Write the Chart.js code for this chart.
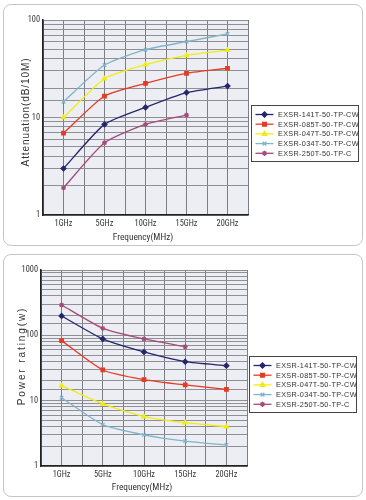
<!DOCTYPE html>
<html>
<head>
<meta charset="utf-8">
<script src="https://cdn.jsdelivr.net/npm/chart.js@4.4.0/dist/chart.umd.min.js"></script>
<style>
  html, body { margin: 0; padding: 0; background: #fff; }
  body { width: 366px; height: 500px; position: relative; overflow: hidden; }
  .panel { position: absolute; border: 1px solid #c4c6ca; border-radius: 8px; background: #fff; }
  .wrap { position: absolute; left: 0; width: 366px; height: 250px; }
</style>
</head>
<body>
<div class="panel" style="left:3px;top:4px;width:358px;height:240px;"></div>
<div class="panel" style="left:3px;top:254px;width:358px;height:241px;"></div>
<div class="wrap" style="top:0"><canvas id="attChart" width="366" height="250"></canvas></div>
<div class="wrap" style="top:250px"><canvas id="powChart" width="366" height="250"></canvas></div>
<script>
// data
const categories = ['1GHz', '5GHz', '10GHz', '15GHz', '20GHz'];
const seriesNames = ['EXSR-141T-50-TP-CW', 'EXSR-085T-50-TP-CW', 'EXSR-047T-50-TP-CW', 'EXSR-034T-50-TP-CW', 'EXSR-250T-50-TP-C'];

// attenuation dB/10M
const att141 = [3.0, 8.5, 12.7, 18, 21];
const att085 = [6.9, 16.6, 22.4, 28.4, 32];
const att047 = [10, 25, 34.8, 43.4, 49];
const att034 = [14.5, 34.5, 49.6, 60, 72];
const att250 = [1.9, 5.5, 8.5, 10.6, null];

// power rating W
const pow141 = [198, 88, 55.6, 39.5, 34.3];
const pow085 = [83, 29.5, 21, 17.4, 14.9];
const pow047 = [17, 8.9, 5.7, 4.6, 4.0];
const pow034 = [11.1, 4.3, 3.0, 2.4, 2.1];
const pow250 = [291, 128, 88, 67, null];

const yTicksAtt = [1, 10, 100];
const yTicksPow = [1, 10, 100, 1000];

const colors = ['#25266a', '#e63a22', '#f2ec12', '#82b4c9', '#a34b79'];
const markers = ['rectRot', 'rect', 'triangle', 'crossRot', 'star'];

const NARROW = "'Roboto Condensed', 'Liberation Sans', sans-serif";
const PLAIN = "'Liberation Sans', Arial, sans-serif";

function makeSets(list) {
    return list.map((vals, i) => ({
        label: seriesNames[i],
        data: vals.map((v, k) => ({ x: k, y: v })),
        borderColor: colors[i],
        backgroundColor: colors[i],
        borderWidth: 1.3,
        pointStyle: markers[i],
        pointRadius: 2.5,
        pointBorderWidth: 1.2,
        tension: 0.2,
        spanGaps: false
    }));
}

// plot background + titles + boxed legend
const decor = {
    id: 'decor',
    beforeDraw(chart) {
        const { ctx, chartArea: a } = chart;
        ctx.save();
        ctx.fillStyle = '#eceef3';
        ctx.fillRect(a.left, a.top, a.right - a.left, a.bottom - a.top);
        ctx.restore();
    },
    afterDraw(chart, args, o) {
        const ctx = chart.ctx;
        ctx.save();
        ctx.fillStyle = '#333';
        ctx.textAlign = 'center';
        ctx.textBaseline = 'middle';
        ctx.font = '9.3px ' + NARROW;
        ctx.fillText('Frequency(MHz)', o.xTitle[0], o.xTitle[1]);

        ctx.translate(o.yTitle[0], o.yTitle[1]);
        ctx.rotate(-Math.PI / 2);
        ctx.font = '10px ' + PLAIN;
        ctx.letterSpacing = o.yTitle[2] + 'px';
        ctx.fillText(o.yText, 0, 0);
        ctx.restore();

        // legend box
        const [lx, ly, lw, lh] = o.legend;
        ctx.save();
        ctx.fillStyle = '#fff';
        ctx.fillRect(lx, ly, lw, lh);
        ctx.strokeStyle = '#444';
        ctx.lineWidth = 1;
        ctx.strokeRect(lx + 0.5, ly + 0.5, lw, lh);
        ctx.font = '7.3px ' + PLAIN;
        ctx.letterSpacing = '0.3px';
        ctx.textBaseline = 'middle';
        chart.data.datasets.forEach((ds, i) => {
            const y = ly + 9.5 + i * 9.7;
            ctx.strokeStyle = ds.borderColor;
            ctx.lineWidth = 1.3;
            ctx.beginPath();
            ctx.moveTo(lx + 4.5, y);
            ctx.lineTo(lx + 22.5, y);
            ctx.stroke();
            Chart.helpers.drawPoint(ctx, {
                pointStyle: ds.pointStyle, radius: 2.6, rotation: 0, borderWidth: 1.2
            }, lx + 13.5, y);
            ctx.fillStyle = ds.borderColor;
            ctx.fill();
            ctx.fillStyle = '#333';
            ctx.fillText(ds.label, lx + 27, y + 0.5);
        });
        ctx.restore();
    }
};

function makeChart(id, sets, yMax, yLabels, box) {
    new Chart(document.getElementById(id), {
        type: 'line',
        data: { datasets: makeSets(sets) },
        options: {
            responsive: false,
            animation: false,
            layout: { padding: { left: 0, top: box.top, right: box.right, bottom: 0 } },
            plugins: {
                legend: { display: false },
                tooltip: { enabled: false },
                decor: box.decor
            },
            scales: {
                x: {
                    type: 'linear',
                    min: -0.5,
                    max: 4.5,
                    afterFit: s => { s.height = box.xh; },
                    grid: { color: '#7b7d82', lineWidth: 1, drawTicks: false },
                    border: { color: '#222', width: 1.6 },
                    ticks: {
                        stepSize: 0.5,
                        autoSkip: false,
                        maxRotation: 0,
                        padding: 4,
                        color: '#333',
                        font: { family: NARROW, size: 8.3 },
                        callback: v => Number.isInteger(v) ? categories[v] : ''
                    }
                },
                y: {
                    type: 'logarithmic',
                    min: 1,
                    max: yMax,
                    afterFit: s => { s.width = box.yw; },
                    grid: { color: '#8e9095', lineWidth: 1, drawTicks: false },
                    border: { color: '#222', width: 1.6 },
                    ticks: {
                        autoSkip: false,
                        padding: 3,
                        color: '#333',
                        font: { family: NARROW, size: 8.3 },
                        callback: v => yLabels.includes(v) ? String(v) : ''
                    }
                }
            }
        },
        plugins: [decor]
    });
}

makeChart('attChart', [att141, att085, att047, att034, att250], 100, yTicksAtt, {
    top: 20, right: 118, xh: 35, yw: 43,
    decor: { xTitle: [143, 238], yTitle: [26, 112, 0.9], yText: 'Attenuation(dB/10M)', legend: [251, 105, 107, 56] }
});

makeChart('powChart', [pow141, pow085, pow047, pow034, pow250], 1000, yTicksPow, {
    top: 20, right: 119, xh: 34, yw: 41,
    decor: { xTitle: [142, 238], yTitle: [22, 106, 1.9], yText: 'Power rating(w)', legend: [249, 106, 107, 56] }
});
</script>
</body>
</html>
